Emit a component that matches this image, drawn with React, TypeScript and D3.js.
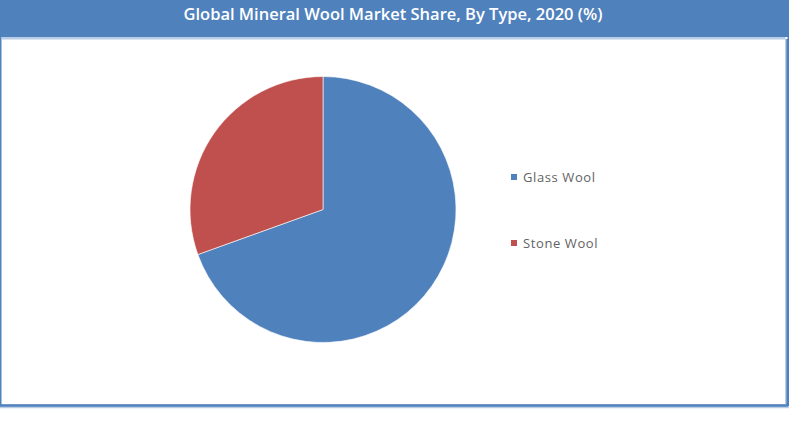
import * as d3 from "d3"
import { useRef, useEffect } from "react"

const title = "Global Mineral Wool Market Share, By Type, 2020 (%)"
const categories = ["Glass Wool", "Stone Wool"]
const shares = [69.5, 30.5]
const colors = ["#4F81BD", "#C0504D"]

export default function App() {
  const svgRef = useRef<SVGSVGElement>(null)

  useEffect(() => {
    if (!svgRef.current) return
    const width = 799
    const height = 423
    const svg = d3.select(svgRef.current)
    svg.selectAll("*").remove()
    svg.attr("width", width).attr("height", height)

    // frame
    svg.append("rect").attr("x", 0).attr("y", 0).attr("width", width).attr("height", height).attr("fill", "#fff")
    svg
      .append("rect")
      .attr("x", 0.75)
      .attr("y", 20)
      .attr("width", 787.5)
      .attr("height", 385.5)
      .attr("fill", "none")
      .attr("stroke", "#4F81BD")
      .attr("stroke-width", 1.5)
    svg
      .append("line")
      .attr("x1", 0)
      .attr("x2", 789)
      .attr("y1", 407.5)
      .attr("y2", 407.5)
      .attr("stroke", "#B9CDE5")
      .attr("stroke-width", 1.5)
    svg
      .append("line")
      .attr("x1", 785.5)
      .attr("x2", 785.5)
      .attr("y1", 39)
      .attr("y2", 404)
      .attr("stroke", "#B9CDE5")
      .attr("stroke-width", 1)
    svg.append("line").attr("x1", 787.5).attr("x2", 787.5).attr("y1", 39).attr("y2", 406).attr("stroke", "#4F81BD").attr("stroke-width", 2.5)
    svg.append("line").attr("x1", 0).attr("x2", 788).attr("y1", 405.5).attr("y2", 405.5).attr("stroke", "#4F81BD").attr("stroke-width", 2.5)

    // title bar
    svg.append("rect").attr("x", 0).attr("y", 0).attr("width", 789).attr("height", 37).attr("fill", "#4F81BD")
    svg.append("rect").attr("x", 1.5).attr("y", 37).attr("width", 784).attr("height", 2.5).attr("fill", "#B9CDE5")
    svg
      .append("text")
      .attr("x", 393)
      .attr("y", 20)
      .attr("text-anchor", "middle")
      .attr("fill", "#fff")
      .style("font-family", "'Open Sans', sans-serif")
      .style("font-weight", "600")
      .style("font-size", "16.5px")
      .text(title)

    // pie
    const cx = 323
    const cy = 209.5
    const radius = 133
    const pie = d3.pie<number>().sort(null).value((d) => d)
    const arc = d3.arc<d3.PieArcDatum<number>>().innerRadius(0).outerRadius(radius)
    const g = svg.append("g").attr("transform", `translate(${cx},${cy})`)
    g.selectAll("path")
      .data(pie(shares))
      .enter()
      .append("path")
      .attr("d", arc)
      .attr("fill", (_, i) => colors[i])
      .attr("stroke", "#fff")
      .attr("stroke-width", 0.6)

    // legend
    const legendY = d3.scalePoint<string>().domain(categories).range([177, 243])
    const legend = svg
      .append("g")
      .selectAll("g")
      .data(categories)
      .enter()
      .append("g")
      .attr("transform", (d) => `translate(511,${legendY(d)})`)
    legend
      .append("rect")
      .attr("x", 0)
      .attr("y", -3)
      .attr("width", 6)
      .attr("height", 6)
      .attr("fill", (_, i) => colors[i])
    legend
      .append("text")
      .attr("x", 12)
      .attr("y", 4.5)
      .attr("fill", "#636363")
      .style("font-family", "'Open Sans', sans-serif")
      .style("font-size", "13px")
      .style("letter-spacing", "0.6px")
      .text((d) => d)
  }, [])

  return (
    <div style={{ position: "absolute", left: 0, top: 0 }}>
      <svg ref={svgRef}></svg>
    </div>
  )
}
